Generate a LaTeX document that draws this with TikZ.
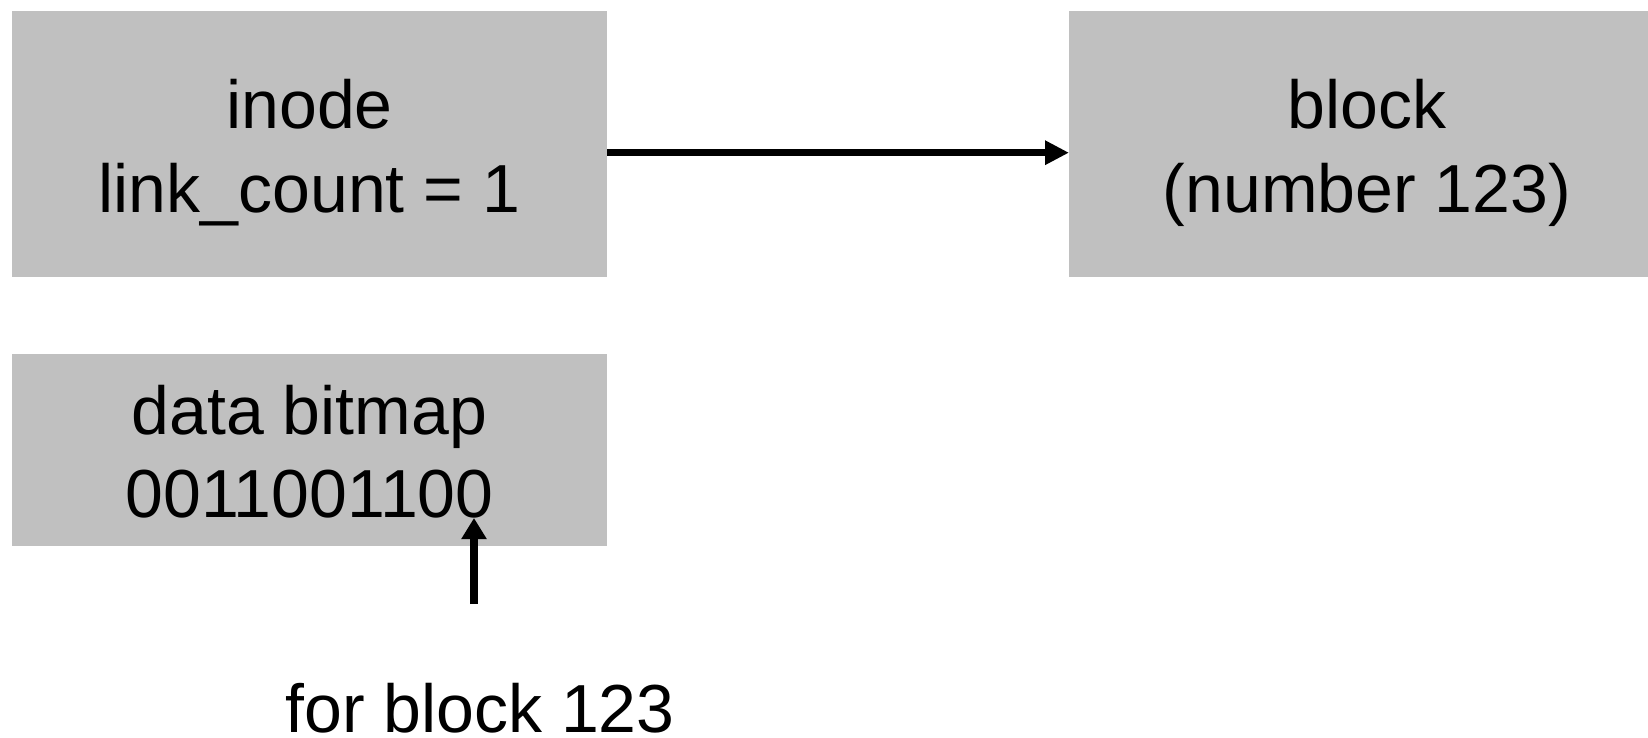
\documentclass[tikz,border=0pt]{standalone}
\usepackage{fontspec}
\setmainfont{Liberation Sans}
\usetikzlibrary{arrows.meta}
\definecolor{boxgray}{RGB}{192,192,192}
\tikzset{
  x=1pt, y=-1pt,
  graybox/.style={fill=boxgray, draw=none, inner sep=0pt, outer sep=0pt},
  txt/.style={font=\fontsize{68}{83}\selectfont, inner sep=0pt, anchor=base},
  arr/.style={line width=7.5pt, -{Triangle[length=24pt, width=23pt]}},
}
\begin{document}
\begin{tikzpicture}
  \clip (0,0) rectangle (1648,738);

  % boxes
  \node[graybox, minimum width=595pt, minimum height=266pt] (inode) at (309.5,144) {};
  \node[graybox, minimum width=596pt, minimum height=266pt] (block) at (1367,144) {};
  \node[graybox, minimum width=595pt, minimum height=192pt] (bitmap) at (309.5,450) {};

  % box texts
  \node[txt] (inodeA) at (309.5,129) {inode};
  \node[txt] (inodeB) at (309.5,212) {link\_count = 1};
  \node[txt] (blockA) at (1367,129) {block};
  \node[txt] (blockB) at (1367,212) {(number 123)};
  \node[txt] (bitmapA) at (309.5,434) {data bitmap};
  \node[txt] (bitmapB) at (309.5,517) {0011001100};

  % caption below the bitmap
  \node[txt] (note) at (480,732) {for block 123};

  % connectors
  \draw[arr] ([yshift=-8.7pt]inode.east) -- ([yshift=-8.7pt]block.west);
  \coordinate (bitTail) at (474,604);
  \coordinate (bitHead) at (474,518);
  \draw[arr, -{Triangle[length=21pt, width=24pt]}] (bitTail) -- (bitHead);
\end{tikzpicture}
\end{document}
